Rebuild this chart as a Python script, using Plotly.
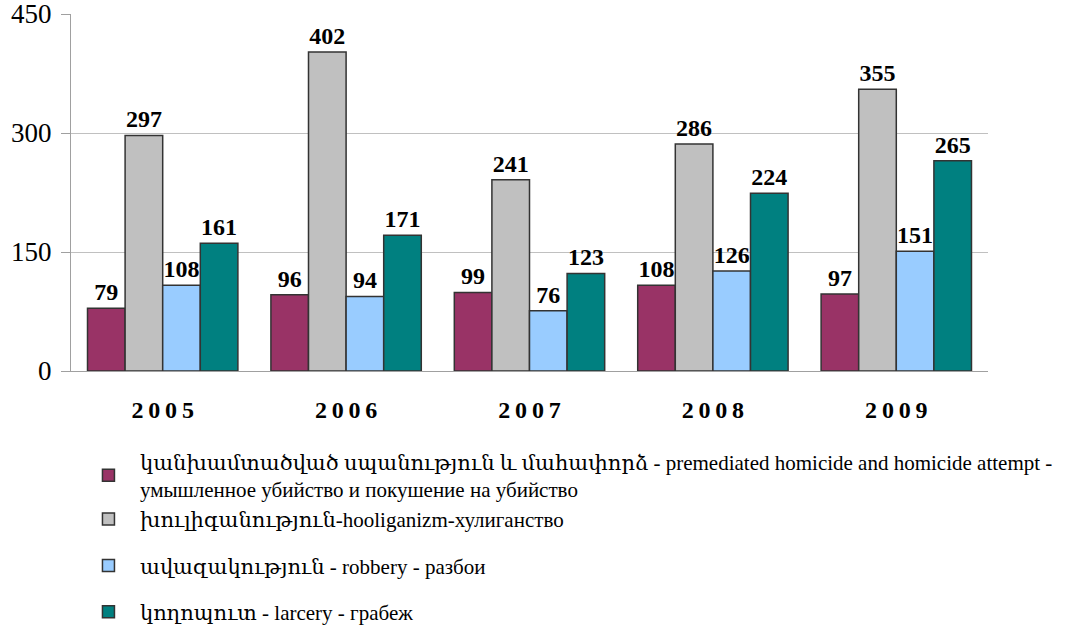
import plotly.graph_objects as go

years = ["2005", "2006", "2007", "2008", "2009"]
homicide = [79, 96, 99, 108, 97]
hooliganism = [297, 402, 241, 286, 355]
robbery = [108, 94, 76, 126, 151]
larceny = [161, 171, 123, 224, 265]

names = [
    "կանխամտածված սպանություն և մահափորձ - premediated homicide and homicide attempt -<br>умышленное убийство и покушение на убийство",
    "խուլիգանություն-hooliganizm-хулиганство",
    "ավազակություն - robbery - разбои",
    "կողոպուտ - larcery - грабеж",
]
colors = ["#993366", "#C0C0C0", "#99CCFF", "#008080"]
series = [homicide, hooliganism, robbery, larceny]
groups = ["g0", "g0", "g2", "g3"]

serif = "'Liberation Serif', 'DejaVu Serif', 'Times New Roman', serif"

fig = go.Figure()
for nm, vals, col, grp in zip(names, series, colors, groups):
    fig.add_trace(go.Bar(
        x=years, y=vals, name=nm,
        marker=dict(color=col, line=dict(color="#333333", width=1.5)),
        text=[str(v) for v in vals], textposition="outside",
        textfont=dict(family=serif, size=24, color="black"),
        texttemplate="<b>%{text}</b>",
        cliponaxis=False,
        legendgroup=grp,
    ))

thin = "\u2009"
fig.update_layout(
    width=1087, height=632,
    margin=dict(l=71, r=99, t=14, b=261, autoexpand=False),
    paper_bgcolor="white", plot_bgcolor="white",
    barmode="group", bargap=0.18, bargroupgap=0,
    font=dict(family=serif, color="black"),
    showlegend=True,
    legend=dict(
        x=0.0065, y=-0.197, xanchor="left", yanchor="top",
        font=dict(family=serif, size=21, color="black"),
        tracegroupgap=16, traceorder="grouped",
        itemwidth=53,
        bgcolor="rgba(0,0,0,0)",
    ),
    xaxis=dict(
        showline=True, linecolor="#a0a0a0", linewidth=1,
        ticks="", showgrid=False, automargin=False,
        tickfont=dict(family=serif, size=24, color="black"),
        tickvals=years, ticktext=["<b>" + thin.join(y) + "</b>" for y in years],
        ticklabelstandoff=17,
    ),
    yaxis=dict(
        range=[0, 450], tickvals=[0, 150, 300, 450],
        showgrid=True, gridcolor="#c0c0c0", gridwidth=1,
        showline=True, linecolor="#a0a0a0", linewidth=1,
        ticks="outside", ticklen=9, tickcolor="#a0a0a0",
        tickfont=dict(family=serif, size=27, color="black"),
        ticklabeloverflow="allow", ticklabelstandoff=4,
        zeroline=False, automargin=False,
    ),
)

fig.write_html(
    "out.html",
    config={"displayModeBar": False},
    post_script="document.body.style.margin='0';",
)
